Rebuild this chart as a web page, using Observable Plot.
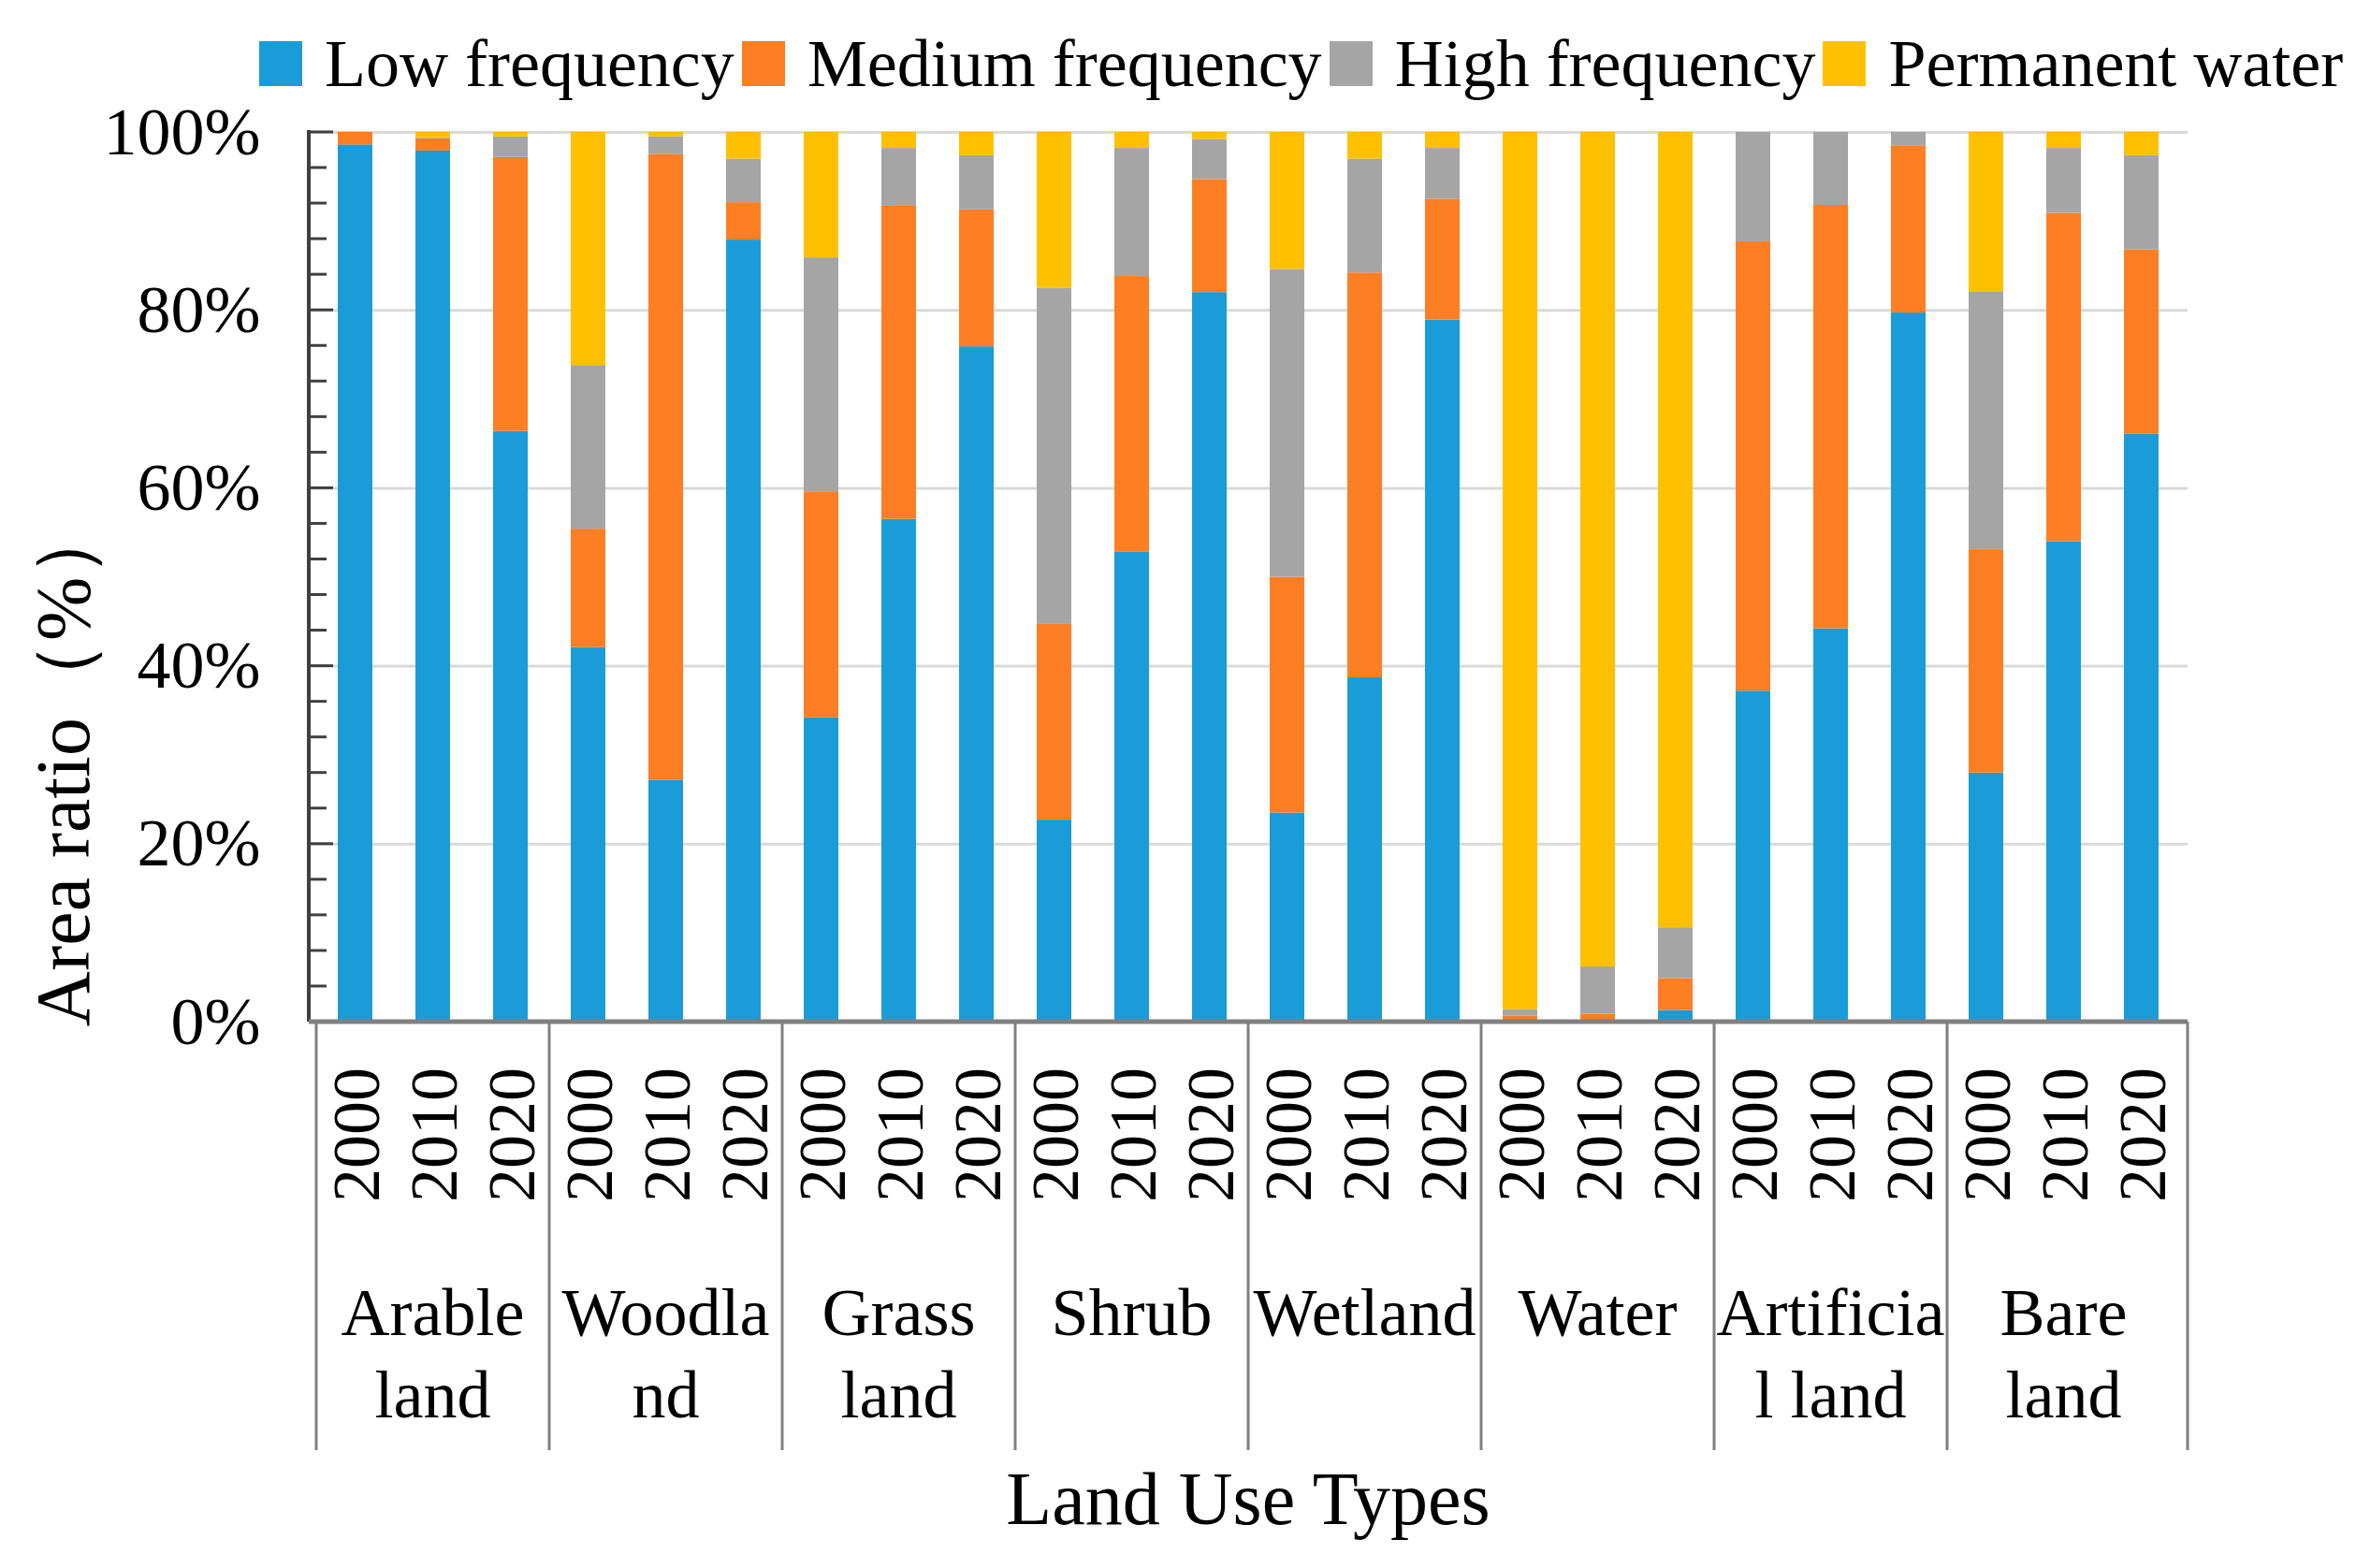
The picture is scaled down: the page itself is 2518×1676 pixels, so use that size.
<!DOCTYPE html>
<html><head><meta charset="utf-8">
<script src="https://cdn.jsdelivr.net/npm/d3@7"></script>
<script src="https://cdn.jsdelivr.net/npm/@observablehq/plot@0.6"></script>
<style>
html,body{margin:0;padding:0;background:#fff;}
#wrap{position:relative;width:2518px;height:1676px;overflow:hidden;font-family:"Liberation Serif","Times New Roman",serif;background:#fff;}
#legend{position:absolute;top:35px;left:277px;height:66px;display:flex;align-items:center;font-size:72px;color:#000;white-space:nowrap;z-index:2;}
.sw{width:46px;height:48px;margin-right:24px;flex:none}
.item{display:flex;align-items:center;margin-right:8px}
#chart{position:absolute;top:0;left:0;z-index:1}
</style></head><body><div id="wrap"><div id="chart"></div><div id="legend"></div></div>
<script>
// ---- data ----
const categories = ["Arable land","Woodland","Grassland","Shrub","Wetland","Water","Artificial land","Bare land"];
const categoryLabelLines = [["Arable","land"],["Woodla","nd"],["Grass","land"],["Shrub"],["Wetland"],["Water"],["Artificia","l land"],["Bare","land"]];
const years = ["2000","2010","2020"];
const seriesNames = ["Low frequency","Medium frequency","High frequency","Permanent water"];
const seriesColors = ["#1A9CD8","#FD7E23","#A5A5A5","#FFC000"];
// values per bar, order: category x year (2000, 2010, 2020)
const lowFrequency    = [98.6,97.9,66.4, 42.1,27.2,87.9, 34.2,56.5,75.9, 22.7,52.8,82.0, 23.5,38.7,78.9, 0.1,0.1,1.3, 37.2,44.2,79.7, 28.0,54.0,66.1];
const mediumFrequency = [1.4,1.4,30.8, 13.3,70.3,4.2, 25.4,35.2,15.4, 22.0,31.0,12.7, 26.5,45.5,13.6, 0.6,0.8,3.6, 50.5,47.6,18.8, 25.0,36.9,20.7];
const highFrequency   = [0.0,0.1,2.3, 18.4,2.0,4.9, 26.3,6.5,6.1, 37.8,14.4,4.5, 34.6,12.8,5.7, 0.7,5.3,5.7, 12.3,8.2,1.5, 29.1,7.3,10.6];
const permanentWater  = [0.0,0.6,0.5, 26.2,0.5,3.0, 14.1,1.8,2.6, 17.5,1.8,0.8, 15.4,3.0,1.8, 98.6,93.8,89.4, 0.0,0.0,0.0, 17.9,1.8,2.6];
const yTicks = [0,20,40,60,80,100];
const yMinorTicks = [0,4,8,12,16,20,24,28,32,36,40,44,48,52,56,60,64,68,72,76,80,84,88,92,96,100];
const xTitle = "Land Use Types";
const yTitle = "Area ratio（%）";

// ---- build table ----
const seriesValues = [lowFrequency, mediumFrequency, highFrequency, permanentWater];
const keyOf = (c, y) => c + "|" + y;
const keys = [];
categories.forEach(c => years.forEach(y => keys.push(keyOf(c, y))));
const rows = [];
keys.forEach((k, i) => seriesNames.forEach((s, j) => rows.push({key: k, series: s, value: seriesValues[j][i]})));

// ---- legend ----
const legend = document.getElementById("legend");
seriesNames.forEach((s, i) => {
  const it = document.createElement("div"); it.className = "item";
  const sw = document.createElement("div"); sw.className = "sw"; sw.style.background = seriesColors[i];
  const t = document.createElement("span"); t.textContent = s;
  it.appendChild(sw); it.appendChild(t); legend.appendChild(it);
});

// ---- custom axis frame ----
function axisFrame(index, scales, values, dims) {
  const x = scales.x, y = scales.y;
  const step = x.step(), bw = x.bandwidth();
  const xl = dims.marginLeft, xr = dims.width - dims.marginRight;
  const y0 = y(0), yT = y(100);
  const g = d3.create("svg:g")
    .attr("font-family", "'Liberation Serif','Times New Roman',serif")
    .attr("fill", "#000");
  // left axis line and inward ticks
  yMinorTicks.forEach(t => {
    const major = yTicks.includes(t);
    g.append("line").attr("x1", xl).attr("x2", xl + (major ? 26 : 19))
      .attr("y1", y(t)).attr("y2", y(t)).attr("stroke", "#404040").attr("stroke-width", 3);
  });
  g.append("line").attr("x1", xl).attr("x2", xl).attr("y1", yT - 2).attr("y2", y0)
    .attr("stroke", "#404040").attr("stroke-width", 4);
  // bottom axis line
  g.append("line").attr("x1", xl).attr("x2", xr).attr("y1", y0).attr("y2", y0)
    .attr("stroke", "#808080").attr("stroke-width", 5);
  // group separators
  const sepBottom = y0 + 458;
  const edges = categories.map(c => x(keyOf(c, years[0])) - (step - bw) / 2);
  edges.push(xr);
  edges.forEach(e => g.append("line").attr("x1", e).attr("x2", e).attr("y1", y0).attr("y2", sepBottom)
    .attr("stroke", "#808080").attr("stroke-width", 3));
  // year labels
  keys.forEach(k => {
    const cx = x(k) + bw / 2, cy = y0 + 121;
    g.append("text").attr("transform", `translate(${cx},${cy}) rotate(-90)`)
      .attr("text-anchor", "middle").attr("dy", "0.35em").attr("font-size", 72)
      .text(k.split("|")[1]);
  });
  // category labels
  categories.forEach((c, i) => {
    const cx = x(keyOf(c, years[1])) + bw / 2;
    categoryLabelLines[i].forEach((line, j) => {
      g.append("text").attr("x", cx).attr("y", y0 + 310 + j * 88).attr("dy", "0.35em")
        .attr("text-anchor", "middle").attr("font-size", 72).text(line);
    });
  });
  // axis titles
  g.append("text").attr("x", (xl + xr) / 2).attr("y", y0 + 509).attr("dy", "0.35em")
    .attr("text-anchor", "middle").attr("font-size", 80).text(xTitle);
  g.append("text").attr("transform", `translate(${66},${y0 - 276}) rotate(-90)`)
    .attr("text-anchor", "middle").attr("dy", "0.35em").attr("font-size", 82).text(yTitle);
  return g.node();
}

const plot = Plot.plot({
  width: 2518, height: 1676,
  marginTop: 141, marginBottom: 584, marginLeft: 330, marginRight: 180,
  style: {fontFamily: "'Liberation Serif','Times New Roman',serif", fontSize: "72px", color: "#000", background: "#fff"},
  x: {domain: keys, paddingInner: 0.56, paddingOuter: 0.28, axis: null},
  y: {domain: [0, 100], axis: null},
  color: {domain: seriesNames, range: seriesColors},
  marks: [
    Plot.gridY(yTicks, {stroke: "#D9D9D9", strokeOpacity: 1, strokeWidth: 3}),
    Plot.axisY(yTicks, {tickSize: 0, tickPadding: 52, tickFormat: d => d + "%", fontSize: 72, label: null}),
    Plot.barY(rows, Plot.stackY({x: "key", y: "value", fill: "series", order: seriesNames})),
    axisFrame
  ]
});
document.getElementById("chart").appendChild(plot);
</script></body></html>
